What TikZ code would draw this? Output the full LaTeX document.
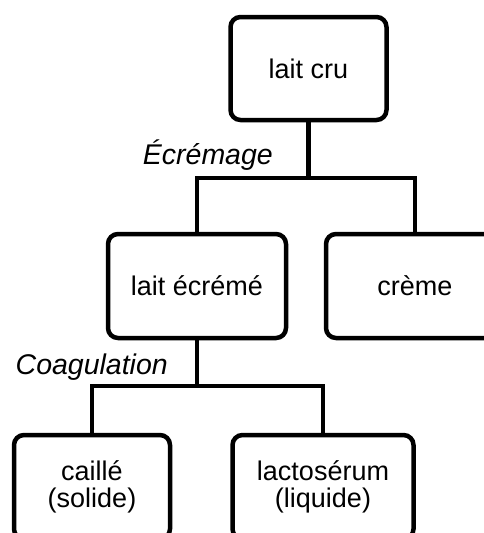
\documentclass[tikz,border=0pt]{standalone}
\usepackage{fontspec}
\setmainfont{Liberation Sans}
\begin{document}
\begin{tikzpicture}[x=1pt,y=-1pt,
  box/.style={draw=black, line width=4.5pt, rounded corners=10pt, fill=white,
    inner sep=0pt, align=center, font=\fontsize{27}{27.5}\selectfont},
  lbl/.style={inner sep=0pt, font=\fontsize{28.5}{29}\selectfont\itshape},
  conn/.style={draw=black, line width=4.5pt}]
\useasboundingbox (0,0) rectangle (484,533);
\clip (0,0) rectangle (484,533);
\node[box, minimum width=156pt, minimum height=103pt] (lc) at (308.5,68.5) {lait cru};
\node[box, minimum width=178pt, minimum height=104pt] (le) at (197,286) {lait écrémé};
\node[box, minimum width=178pt, minimum height=104pt] (cr) at (415,286) {crème};
\node[box, minimum width=156pt, minimum height=104pt] (ca) at (92,487) {caillé\\(solide)};
\node[box, minimum width=181pt, minimum height=104pt] (la) at (323,487) {lactosérum\\(liquide)};
\coordinate (j1) at (308.5,178);
\coordinate (j2) at (197,386);
\node[lbl, anchor=base east] (e1) at (273,164) {Écrémage};
\node[lbl, anchor=base east] (e2) at (168,374) {Coagulation};
\draw[conn] (lc.south) -- (j1);
\draw[conn] (j1) -| (le.north);
\draw[conn] (j1) -| (cr.north);
\draw[conn] (le.south) -- (j2);
\draw[conn] (j2) -| (ca.north);
\draw[conn] (j2) -| (la.north);
\end{tikzpicture}
\end{document}
